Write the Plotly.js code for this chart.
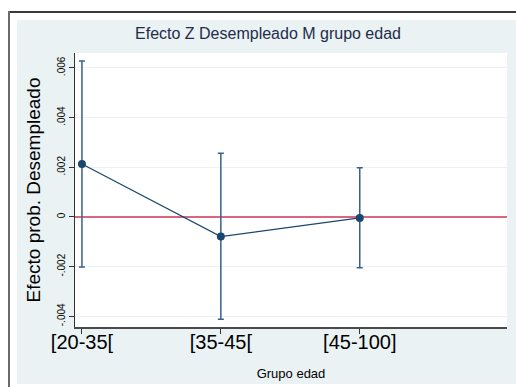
<!DOCTYPE html>
<html>
<head>
<meta charset="utf-8">
<script src="https://cdn.plot.ly/plotly-3.0.1.min.js"></script>
<style>
  html, body { margin: 0; padding: 0; background: #ffffff; }
  #wrap { position: relative; width: 516px; height: 387px; overflow: hidden; background: #ffffff; }
  #frameTop { position: absolute; left: 8px; top: 11px; width: 520px; height: 2px; background: #3a3a3a; }
  #frameLeft { position: absolute; left: 8px; top: 11px; width: 2px; height: 380px; background: #6a6a6a; }
  #bg { position: absolute; left: 17px; top: 20px; width: 510px; height: 364px; background: #eaf2f3; }
  #chart { position: absolute; left: 0; top: 0; width: 516px; height: 387px; }
</style>
</head>
<body>
<div id="wrap">
  <div id="frameTop"></div>
  <div id="frameLeft"></div>
  <div id="bg"></div>
  <div id="chart"></div>
</div>
<script>
// Data
const categories = ['[20-35[', '[35-45[', '[45-100]'];
const estimates  = [0.00213, -0.00079, -0.00004];
const ciUpper    = [0.00628, 0.00256, 0.00198];
const ciLower    = [-0.00201, -0.00412, -0.00204];
const yTickVals  = [-0.004, -0.002, 0, 0.002, 0.004, 0.006];
const yTickText  = ['-.004', '-.002', '0', '.002', '.004', '.006'];
const refValue   = 0;

const xRange = [0.95, 4.06];
const yRange = [-0.00443, 0.0066];
const xPos = categories.map((c, i) => i + 1);
const navy = '#1a476f';

const traces = [
  {
    x: xRange,
    y: xRange.map(() => refValue),
    type: 'scatter',
    mode: 'lines',
    line: { color: '#d8677f', width: 2 },
    hoverinfo: 'skip',
    showlegend: false,
    cliponaxis: true
  },
  {
    x: xPos,
    y: estimates,
    type: 'scatter',
    mode: 'lines+markers',
    line: { color: navy, width: 1.2 },
    marker: { color: navy, size: 8 },
    error_y: {
      type: 'data',
      symmetric: false,
      array: estimates.map((v, i) => ciUpper[i] - v),
      arrayminus: estimates.map((v, i) => v - ciLower[i]),
      color: '#3a6189',
      thickness: 1.5,
      width: 3
    },
    hoverinfo: 'x+y',
    showlegend: false
  }
];

const layout = {
  width: 516,
  height: 387,
  paper_bgcolor: 'rgba(0,0,0,0)',
  plot_bgcolor: '#ffffff',
  margin: { l: 75, r: 9, t: 53, b: 60 },
  font: { family: 'Liberation Sans, Arial, sans-serif', color: '#000000' },
  title: {
    text: 'Efecto Z Desempleado M grupo edad',
    font: { size: 16, color: '#1e2d4a', family: 'Liberation Sans, Arial, sans-serif' },
    xref: 'container', yref: 'container',
    x: 268 / 516, xanchor: 'center',
    y: 1 - 33 / 387, yanchor: 'middle'
  },
  xaxis: {
    range: xRange,
    tickvals: xPos,
    ticktext: categories,
    tickfont: { size: 20, color: '#000000' },
    ticks: 'outside',
    ticklen: 5,
    tickcolor: '#333333',
    tickwidth: 1,
    ticklabelstandoff: -9,
    showgrid: false,
    zeroline: false,
    showline: true,
    linecolor: '#4a4a4a',
    linewidth: 2,
    title: { text: 'Grupo edad', font: { size: 13, color: '#000000' }, standoff: 17 }
  },
  yaxis: {
    range: yRange,
    tickvals: yTickVals,
    ticktext: yTickText,
    tickangle: -90,
    tickfont: { size: 10, color: '#000000' },
    ticks: 'outside',
    ticklen: 5,
    tickcolor: '#333333',
    tickwidth: 1,
    showgrid: true,
    gridcolor: '#eaf2f3',
    gridwidth: 1,
    zeroline: false,
    showline: true,
    linecolor: '#333333',
    linewidth: 1,
    title: { text: 'Efecto prob. Desempleado', font: { size: 19, color: '#000000' }, standoff: 10 }
  }
};

Plotly.newPlot('chart', traces, layout, { displayModeBar: false, staticPlot: true });
</script>
</body>
</html>
